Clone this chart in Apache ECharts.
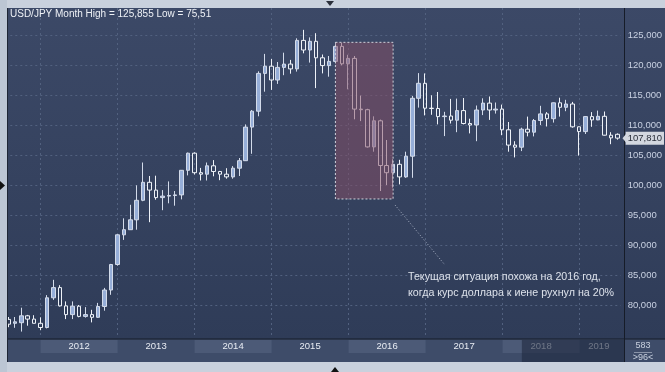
<!DOCTYPE html>
<html><head><meta charset="utf-8">
<script src="https://cdn.jsdelivr.net/npm/echarts@6/dist/echarts.min.js"></script>
<style>html,body{margin:0;padding:0;background:#c6cedb;}#c{width:665px;height:372px;}</style>
</head><body><div id="c"></div>
<script>
// Monthly categories, Aug 2011 .. Jul 2019 (96 bars)
const months = [];
for (let y = 2011; y <= 2019; y++) for (let m = 1; m <= 12; m++) {
  if ((y === 2011 && m < 8) || (y === 2019 && m > 7)) continue;
  months.push(y + '-' + String(m).padStart(2, '0'));
}
const opens = [
  77.60, 76.95, 77.05, 78.20, 77.65,
  76.95, 76.25, 81.20, 82.90, 79.85, 78.40, 79.80, 78.10, 78.40, 77.95, 79.75, 82.50,
  86.75, 91.70, 92.55, 94.20, 97.45, 100.45, 99.15, 97.90, 98.15, 98.25, 98.35, 102.45,
  105.30, 102.05, 101.80, 103.20, 102.25, 101.80, 101.35, 102.80, 104.05, 109.65, 112.30, 118.60,
  119.80, 117.50, 119.60, 120.15, 119.35, 124.10, 122.50, 123.95, 121.20, 119.90, 120.60, 123.10,
  120.20, 121.10, 112.65, 112.55, 106.35, 110.70, 103.25, 102.05, 103.45, 101.35, 104.80, 114.45,
  116.95, 112.80, 112.75, 111.40, 111.50, 110.80, 112.40, 110.25, 110.00, 112.50, 113.65, 112.50,
  112.65, 109.20, 106.65, 106.30, 109.30, 108.80, 110.75, 111.85, 111.05, 113.70, 112.95, 113.50,
  109.70, 108.90, 111.40, 110.85, 111.45, 108.30, 108.45
];
const highs = [
  78.00, 78.00, 79.55, 78.35, 78.30,
  77.95, 81.65, 84.20, 83.30, 80.60, 80.60, 80.00, 79.65, 79.20, 80.35, 82.85, 86.85,
  91.80, 94.45, 96.70, 99.95, 103.75, 101.50, 101.55, 99.15, 100.60, 99.00, 102.50, 105.40,
  105.45, 102.85, 103.75, 104.15, 102.35, 102.80, 103.15, 104.50, 110.10, 112.50, 118.95, 121.85,
  121.00, 120.50, 122.05, 120.85, 124.45, 125.86, 124.60, 125.30, 121.75, 121.50, 123.75, 123.70,
  121.70, 121.50, 114.90, 112.70, 111.45, 110.90, 107.50, 104.30, 104.20, 105.55, 114.85, 118.65,
  118.60, 114.95, 115.50, 112.20, 114.35, 114.40, 114.50, 111.05, 113.25, 114.45, 114.75, 113.75,
  113.40, 110.50, 107.30, 109.55, 111.40, 111.00, 113.20, 112.15, 113.75, 114.55, 114.20, 113.85,
  109.75, 111.50, 112.15, 112.40, 112.25, 108.80, 108.60
];
const lows = [
  76.30, 76.20, 75.57, 76.55, 76.95,
  75.80, 76.10, 80.85, 79.75, 77.65, 77.65, 77.95, 77.90, 77.10, 77.85, 79.05, 81.70,
  86.55, 90.85, 92.55, 92.55, 97.30, 93.80, 97.55, 95.80, 96.95, 96.55, 97.60, 101.60,
  101.75, 100.75, 100.75, 101.45, 100.80, 101.05, 101.05, 101.50, 104.00, 105.20, 111.45, 115.55,
  115.85, 116.85, 118.30, 118.55, 118.90, 121.95, 120.40, 116.15, 118.60, 118.05, 120.25, 119.95,
  115.95, 110.95, 110.65, 106.25, 105.55, 99.00, 100.00, 99.55, 100.10, 101.20, 101.20, 112.90,
  111.60, 111.70, 110.10, 108.15, 110.25, 108.80, 110.10, 108.60, 107.30, 111.65, 110.85, 111.90,
  108.30, 105.55, 104.60, 105.65, 108.10, 108.10, 110.00, 109.75, 110.40, 111.40, 112.30, 109.55,
  104.90, 108.50, 109.70, 110.80, 108.25, 106.80, 107.55
];
const closes = [
  76.80, 77.20, 78.20, 77.65, 76.95,
  76.25, 81.20, 82.90, 79.85, 78.40, 79.80, 78.10, 78.40, 77.95, 79.75, 82.50, 86.75,
  91.70, 92.55, 94.20, 97.45, 100.45, 99.15, 97.90, 98.15, 98.25, 98.35, 102.45, 105.30,
  102.05, 101.80, 103.20, 102.25, 101.80, 101.35, 102.80, 104.05, 109.65, 112.30, 118.60, 119.80,
  117.50, 119.60, 120.15, 119.35, 124.10, 122.50, 123.95, 121.20, 119.90, 120.60, 123.10, 120.20,
  121.10, 112.65, 112.55, 106.35, 110.70, 103.25, 102.05, 103.45, 101.35, 104.80, 114.45, 116.95,
  112.80, 112.75, 111.40, 111.50, 110.80, 112.40, 110.25, 110.00, 112.50, 113.65, 112.50, 112.65,
  109.20, 106.65, 106.30, 109.30, 108.80, 110.75, 111.85, 111.05, 113.70, 112.95, 113.50, 109.70,
  108.90, 111.40, 110.85, 111.45, 108.30, 107.85, 107.81
];
const yearLabels = ['2012', '2013', '2014', '2015', '2016', '2017', '2018', '2019'];
const yTicks = [80, 85, 90, 95, 100, 105, 110, 115, 120, 125];
const lastPrice = 107.81;
const boxFrom = '2015-11', boxTo = '2016-08', boxTop = 123.78, boxBottom = 97.67;
const titleText = 'USD/JPY Month High = 125,855 Low = 75,51';
const noteText = 'Текущая ситуация похожа на 2016 год,\nкогда курс доллара к иене рухнул на 20%';

const fmt = v => v.toFixed(3).replace('.', ',');
const candleData = months.map((m, i) => [opens[i], closes[i], lows[i], highs[i]]);
const empty = months.map(() => '-');

const chart = echarts.init(document.getElementById('c'), null, { renderer: 'canvas' });
const GRID_L = 5.3, GRID_R = 43.7;
const gridColor = '#52617f';

const yearAreas = yearLabels.map((y) => {
  const yn = +y;
  const end = yn === 2019 ? '2019-07' : (yn + 1) + '-01';
  return [
    { name: y, xAxis: y + '-01', itemStyle: { color: yn % 2 === 0 ? '#4c5a77' : 'rgba(0,0,0,0)' } },
    { xAxis: end }
  ];
});

const option = {
  animation: false,
  backgroundColor: 'transparent',
  textStyle: { fontFamily: 'Liberation Sans' },
  grid: [
    { left: GRID_L, right: GRID_R, top: 8, bottom: 372 - 335 },
    { left: GRID_L, right: GRID_R, top: 340, height: 13 }
  ],
  xAxis: [
    { type: 'category', data: months, gridIndex: 0, boundaryGap: true, show: false },
    { type: 'category', data: months, gridIndex: 1, boundaryGap: true, show: false }
  ],
  yAxis: [
    {
      type: 'value', gridIndex: 0, min: 75, max: 129.5, interval: 5, position: 'right',
      axisLine: { show: false }, axisTick: { show: false }, splitLine: { show: false },
      axisLabel: {
        margin: 7, color: '#c9d1e2', fontSize: 9.5,
        formatter: v => (v < 80 || v > 125) ? '' : fmt(v)
      }
    },
    { type: 'value', gridIndex: 1, min: 0, max: 1, show: false }
  ],
  series: [
    {
      type: 'line', xAxisIndex: 0, yAxisIndex: 0, data: empty, z: 1, silent: true,
      markLine: {
        z: 1, silent: true, symbol: ['none', 'none'], label: { show: false },
        lineStyle: { color: gridColor, type: [2, 3], width: 1 },
        data: yearLabels.map(y => ({ xAxis: y + '-01' })).concat(yTicks.map(v => ({ yAxis: v })))
      }
    },
    {
      type: 'candlestick', xAxisIndex: 0, yAxisIndex: 0, data: candleData, z: 2,
      barWidth: 4,
      itemStyle: {
        color: '#96aed8', color0: 'rgba(0,0,0,0)',
        borderColor: '#d3dbea', borderColor0: '#eef2f8', borderWidth: 1
      }
    },
    {
      type: 'line', xAxisIndex: 0, yAxisIndex: 0, data: empty, z: 10, silent: true,
      markArea: {
        z: 10, silent: true,
        itemStyle: { color: 'rgba(135,78,102,0.52)', borderColor: '#cfd3dc', borderWidth: 1, borderType: [2, 2] },
        data: [[{ xAxis: boxFrom, yAxis: boxTop }, { xAxis: boxTo, yAxis: boxBottom }]]
      },
      markLine: {
        z: 72, silent: true, symbol: ['none', 'none'],
        lineStyle: { color: 'rgba(0,0,0,0)', width: 0 },
        label: {
          show: true, position: 'end', distance: 5, formatter: () => fmt(lastPrice),
          backgroundColor: '#d3d7df', color: '#2a2f3a', fontSize: 9.5, padding: [2, 2, 1, 2]
        },
        data: [{ yAxis: lastPrice }]
      }
    },
    {
      type: 'line', xAxisIndex: 1, yAxisIndex: 1, data: empty, z: 3, silent: true,
      markArea: {
        z: 3, silent: true,
        label: { show: true, position: 'inside', color: '#e8ecf3', fontSize: 9.5, formatter: '{b}' },
        data: yearAreas
      }
    }
  ]
};
chart.setOption(option);

const xOverlay = chart.convertToPixel({ xAxisIndex: 1 }, '2018-04');
const yPrice = chart.convertToPixel({ yAxisIndex: 0 }, lastPrice);
chart.setOption({
  graphic: [
    { type: 'rect', z: -10, shape: { x: 0, y: 0, width: 665, height: 340 },
      style: { fill: new echarts.graphic.LinearGradient(0, 0, 0, 1, [{ offset: 0, color: '#3c4967' }, { offset: 1, color: '#2f3c58' }]) } },
    { type: 'rect', z: -10, shape: { x: 0, y: 339, width: 665, height: 24 }, style: { fill: '#3e4c69' } },
    { type: 'rect', z: 50, shape: { x: xOverlay, y: 340, width: 625 - xOverlay, height: 22 }, style: { fill: 'rgba(32,42,64,0.62)' } },
    { type: 'rect', z: 60, shape: { x: 8, y: 338.5, width: 657, height: 1 }, style: { fill: '#161c28' } },
    { type: 'rect', z: 60, shape: { x: 624, y: 8, width: 1, height: 354 }, style: { fill: '#161c28' } },
    { type: 'polygon', z: 70, shape: { points: [[622.5, yPrice], [626.6, yPrice - 5], [626.6, yPrice + 5]] }, style: { fill: '#d3d7df' } },
    { type: 'rect', z: 100, shape: { x: 0, y: 0, width: 665, height: 8 }, style: { fill: '#c9d1dd' } },
    { type: 'rect', z: 100, shape: { x: 0, y: 362, width: 665, height: 10 }, style: { fill: '#c9d1dd' } },
    { type: 'rect', z: 100, shape: { x: 0, y: 0, width: 7, height: 372 }, style: { fill: '#bcc6d4' } },
    { type: 'rect', z: 100, shape: { x: 7, y: 8, width: 1, height: 354 }, style: { fill: '#1e2635' } },
    { type: 'polygon', z: 101, shape: { points: [[0, 181], [5, 185.5], [0, 190]] }, style: { fill: '#111' } },
    { type: 'polygon', z: 101, shape: { points: [[326, 1], [334, 1], [330, 6]] }, style: { fill: '#2a2f3a' } },
    { type: 'polygon', z: 101, shape: { points: [[331, 372], [339, 372], [335, 367]] }, style: { fill: '#111' } },
    { type: 'text', z: 80, x: 10, y: 14, style: { text: titleText, fill: '#eef1f6', font: '10px "Liberation Sans"', textVerticalAlign: 'middle' } },
    { type: 'line', z: 80, shape: { x1: 395, y1: 205, x2: 445, y2: 265 }, style: { stroke: '#aab3c6', lineWidth: 1, lineDash: [1, 2] } },
    { type: 'text', z: 80, x: 408, y: 269, style: { text: noteText, fill: '#dde2eb', font: '10.7px "Liberation Sans"', lineHeight: 16 } },
    { type: 'text', z: 80, x: 643, y: 346, style: { text: '583', fill: '#c8d0de', font: '9px "Liberation Sans"', textAlign: 'center', textVerticalAlign: 'middle' } },
    { type: 'rect', z: 80, shape: { x: 634, y: 352, width: 18, height: 1 }, style: { fill: '#8a94a8' } },
    { type: 'text', z: 80, x: 643, y: 358, style: { text: '>96<', fill: '#c8d0de', font: '9px "Liberation Sans"', textAlign: 'center', textVerticalAlign: 'middle' } }
  ]
});
</script></body></html>
